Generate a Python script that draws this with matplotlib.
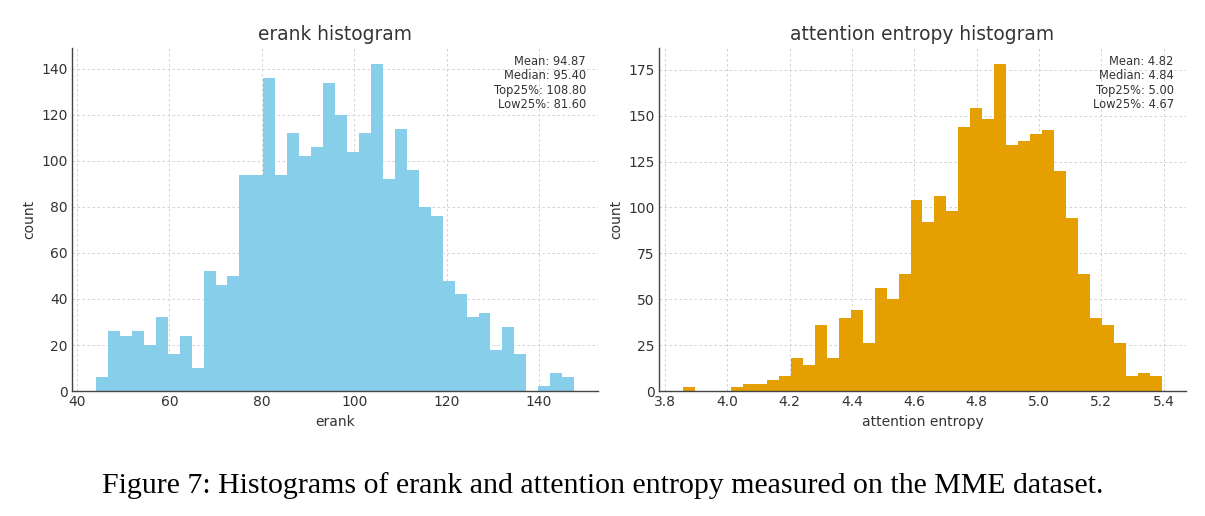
import numpy as np
import matplotlib
matplotlib.use('Agg')
import matplotlib.pyplot as plt

# erank histogram: 40 bins between min and max
erank_lo, erank_hi = 44.12, 147.6
erank_counts = [6, 26, 24, 26, 20, 32, 16, 24, 10, 52,
                46, 50, 94, 94, 136, 94, 112, 102, 106, 134,
                120, 104, 112, 142, 92, 114, 96, 80, 76, 48,
                42, 32, 34, 18, 28, 16, 0, 2, 8, 6]
erank_stats = ['Mean: 94.87', 'Median: 95.40', 'Top25%: 108.80', 'Low25%: 81.60']

# attention entropy histogram
ent_lo, ent_hi = 3.858, 5.3945
ent_counts = [2, 0, 0, 0, 2, 4, 4, 6, 8, 18,
              14, 36, 18, 40, 44, 26, 56, 50, 64, 104,
              92, 106, 98, 144, 154, 148, 178, 134, 136, 140,
              142, 120, 94, 64, 40, 36, 26, 8, 10, 8]
ent_stats = ['Mean: 4.82', 'Median: 4.84', 'Top25%: 5.00', 'Low25%: 4.67']

caption = 'Figure 7: Histograms of erank and attention entropy measured on the MME dataset.'

txt_col = '#333333'


def draw_hist(ax, lo, hi, counts, color, title, xlabel, stats):
    edges = np.linspace(lo, hi, len(counts) + 1)
    centers = (edges[:-1] + edges[1:]) / 2
    ax.hist(centers, bins=edges, weights=counts, color=color, zorder=2)
    ax.set_title(title, fontsize=13.4, color=txt_col)
    ax.set_xlabel(xlabel, fontsize=10, color=txt_col)
    ax.set_ylabel('count', fontsize=10, color=txt_col)
    ax.grid(True, linestyle=(0, (3, 3)), color='#cccccc', linewidth=0.6, zorder=0)
    ax.set_axisbelow(True)
    ax.tick_params(length=0, labelsize=10, colors=txt_col, pad=3)
    for s in ['top', 'right']:
        ax.spines[s].set_visible(False)
    for s in ['left', 'bottom']:
        ax.spines[s].set_color('#444444')
        ax.spines[s].set_linewidth(1.0)
    ax.text(0.977, 0.98, '\n'.join(stats), transform=ax.transAxes,
            ha='right', va='top', fontsize=8.3, color=txt_col, linespacing=1.15)


fig = plt.figure(figsize=(12.05, 5.16), dpi=100)
ax1 = fig.add_axes([0.0598, 0.2422, 0.4365, 0.6648])
ax2 = fig.add_axes([0.5469, 0.2422, 0.4373, 0.6648])

draw_hist(ax1, erank_lo, erank_hi, erank_counts, '#87ceeb',
          'erank histogram', 'erank', erank_stats)
draw_hist(ax2, ent_lo, ent_hi, ent_counts, '#e69f00',
          'attention entropy histogram', 'attention entropy', ent_stats)
ax2.set_yticks([0, 25, 50, 75, 100, 125, 150, 175])

fig.text(0.5, 0.06, caption, ha='center', va='center',
         fontsize=21.5, family='Liberation Serif', color='black')

fig.savefig('out.png', dpi=100)
